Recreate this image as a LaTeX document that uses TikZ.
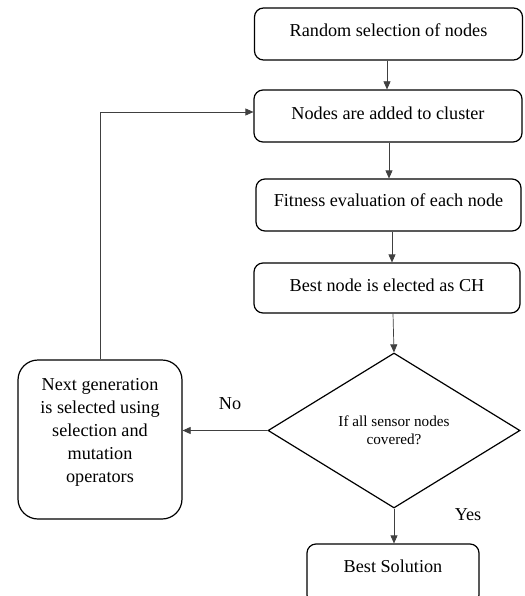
\documentclass[tikz,border=0pt]{standalone}
\usepackage{fontspec}
\setmainfont{Liberation Serif}
\usetikzlibrary{shapes.geometric,arrows.meta}
\begin{document}
\begin{tikzpicture}[x=1pt,y=-1pt,
  box/.style={draw=black,line width=1.2pt,rounded corners=9pt,inner sep=0pt},
  txt/.style={font=\fontsize{18.2}{23}\selectfont,inner sep=0pt,align=center},
  small/.style={font=\fontsize{15.2}{18}\selectfont,inner sep=0pt,align=center},
  conn/.style={draw=black!75,line width=0.7pt,-{Triangle[length=8pt,width=7pt]}}]
\useasboundingbox (0,0) rectangle (524,596);
% boxes
\node[box,minimum width=268pt,minimum height=52pt] (b1) at (388.5,34) {};
\node[txt] (t1) at (388.5,30) {Random selection of nodes};
\node[box,minimum width=268pt,minimum height=52pt] (b2) at (388,116) {};
\node[txt] (t2) at (388,113) {Nodes are added to cluster};
\node[box,minimum width=265pt,minimum height=52pt] (b3) at (388.5,205) {};
\node[txt] (t3) at (388.5,200) {Fitness evaluation of each node};
\node[box,minimum width=266pt,minimum height=50pt] (b4) at (387,288) {};
\node[txt] (t4) at (387,285) {Best node is elected as CH};
\node[draw=black,line width=1.2pt,diamond,inner sep=0pt,minimum width=252pt,minimum height=155pt] (d) at (394,430.5) {};
\node[small] (td) at (394,430) {If all sensor nodes\\covered?};
\node[box,rounded corners=20pt,minimum width=164pt,minimum height=159pt] (lb) at (100,439.5) {};
\node[txt] (tl) at (100,432) {Next generation\\is selected using\\selection and\\mutation\\operators};
\node[box,minimum width=172pt,minimum height=60pt] (bs) at (393,574) {};
\node[txt] (ts) at (393,566) {Best Solution};
\node[txt] (no) at (230,404) {No};
\node[txt] (yes) at (468,515) {Yes};
% connectors
\draw[conn] (b1.south -| 387,0) -- (b2.north -| 387,0);
\draw[conn] (b2.south -| 389,0) -- (b3.north -| 389,0);
\draw[conn] (b3.south -| 392,0) -- (b4.north -| 392,0);
\draw[conn] (b4.south -| 393,0) -- (d.north);
\draw[conn] (d.south) -- (bs.north -| d.south);
\draw[conn] (d.west) -- (lb.east |- d.west);
\draw[conn] (lb.north) |- (b2.west |- 0,112);
\end{tikzpicture}
\end{document}
